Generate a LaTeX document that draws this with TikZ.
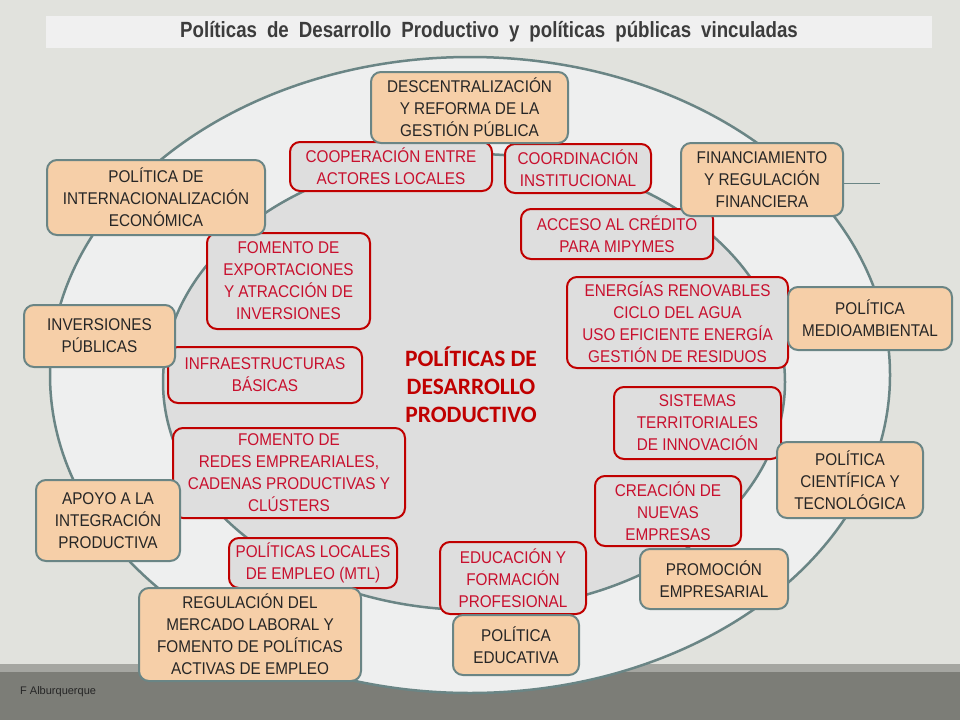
\documentclass[tikz,border=0pt]{standalone}
\usepackage{fontspec}
\setmainfont{Liberation Sans}
\newfontfamily\boxfont{Liberation Sans}[FakeStretch=0.9]
\newfontfamily\titlefont{Liberation Sans}[FakeStretch=0.85]
\newfontfamily\calfont{Carlito}
\definecolor{bgc}{HTML}{E1E2DD}
\definecolor{titlebg}{HTML}{F0F0F0}
\definecolor{stripe}{HTML}{A5A6A1}
\definecolor{footc}{HTML}{7C7D77}
\definecolor{outerfill}{HTML}{EEEFEF}
\definecolor{innerfill}{HTML}{DEDEDE}
\definecolor{ringc}{HTML}{6A8585}
\definecolor{orangefill}{HTML}{F6CFA8}
\definecolor{redline}{HTML}{C00000}
\definecolor{redtext}{HTML}{C8102E}
\definecolor{darktext}{HTML}{262626}
\tikzset{
  orangebox/.style={draw=ringc, line width=2pt, fill=orangefill, rounded corners=10pt,
    align=center, inner sep=0pt, text=darktext,
    font=\boxfont\fontsize{17}{22}\selectfont},
  redbox/.style={draw=redline, line width=2pt, fill=innerfill, rounded corners=10pt,
    align=center, inner sep=0pt, text=redtext,
    font=\boxfont\fontsize{17}{22}\selectfont},
  ring/.style={draw=ringc, line width=2.5pt},
  conn/.style={draw=ringc, line width=1pt}
}
\begin{document}
\begin{tikzpicture}[x=1pt,y=-1pt]
\useasboundingbox (0,0) rectangle (960,720);
\fill[bgc] (0,0) rectangle (960,720);
% footer
\fill[stripe] (0,664) rectangle (960,672);
\fill[footc] (0,672) rectangle (960,720);
% title bar
\fill[titlebg] (46,16) rectangle (932,48);
\node[font=\titlefont\bfseries\fontsize{22}{22}\selectfont, text=darktext!90] (title) at (489,32) {\spaceskip=10pt plus 2pt\relax Políticas de Desarrollo Productivo y políticas públicas vinculadas};
% ellipses
\draw[ring, fill=outerfill] (470,375) ellipse [x radius=420, y radius=318];
\draw[ring, fill=innerfill] (474,382) ellipse [x radius=311, y radius=228];
% center text
\node[font=\calfont\bfseries\fontsize{23.5}{28}\selectfont, text=redline, align=center] (center) at (471,385) {POLÍTICAS DE\\DESARROLLO\\PRODUCTIVO};
% red boxes
\node[redbox, minimum width=202, minimum height=49] (coop) at (391,166.5) {COOPERACIÓN ENTRE\\ACTORES LOCALES};
\node[redbox, minimum width=146, minimum height=49] (coord) at (578,168.5) {COORDINACIÓN\\INSTITUCIONAL};
\node[redbox, minimum width=192, minimum height=50] (acceso) at (617,234) {ACCESO AL CRÉDITO\\PARA MIPYMES};
\node[redbox, minimum width=163, minimum height=96] (export) at (288.5,281) {FOMENTO DE\\EXPORTACIONES\\Y ATRACCIÓN DE\\INVERSIONES};
\node[redbox, minimum width=221, minimum height=91] (energia) at (677.5,322.5) {ENERGÍAS RENOVABLES\\CICLO DEL AGUA\\USO EFICIENTE ENERGÍA\\GESTIÓN DE RESIDUOS};
\node[redbox, minimum width=194, minimum height=56] (infra) at (265,375) {INFRAESTRUCTURAS\\BÁSICAS};
\node[redbox, minimum width=167, minimum height=72] (sistemas) at (697.5,423) {SISTEMAS\\TERRITORIALES\\DE INNOVACIÓN};
\node[redbox, minimum width=232, minimum height=90] (redes) at (289,473) {FOMENTO DE\\REDES EMPREARIALES,\\CADENAS PRODUCTIVAS Y\\CLÚSTERS};
\node[redbox, minimum width=146, minimum height=70] (creacion) at (668,511) {CREACIÓN DE\\NUEVAS\\EMPRESAS};
\node[redbox, minimum width=168, minimum height=50] (mtl) at (313,563) {POLÍTICAS LOCALES\\DE EMPLEO (MTL)};
\node[redbox, minimum width=146, minimum height=72] (edu) at (513,578) {EDUCACIÓN Y\\FORMACIÓN\\PROFESIONAL};
% orange boxes
\node[orangebox, minimum width=197, minimum height=71] (descen) at (469.5,107.5) {DESCENTRALIZACIÓN\\Y REFORMA DE LA\\GESTIÓN PÚBLICA};
\node[orangebox, minimum width=218, minimum height=75] (inter) at (156,197.5) {POLÍTICA DE\\INTERNACIONALIZACIÓN\\ECONÓMICA};
\node[orangebox, minimum width=162, minimum height=73] (fin) at (762,179.5) {FINANCIAMIENTO\\Y REGULACIÓN\\FINANCIERA};
\node[orangebox, minimum width=151, minimum height=62] (invers) at (99.5,336) {INVERSIONES\\PÚBLICAS};
\node[orangebox, minimum width=164, minimum height=63] (medio) at (870,318.5) {POLÍTICA\\MEDIOAMBIENTAL};
\node[orangebox, minimum width=146, minimum height=76] (cient) at (850,480) {POLÍTICA\\CIENTÍFICA Y\\TECNOLÓGICA};
\node[orangebox, minimum width=144, minimum height=81] (apoyo) at (108,520.5) {APOYO A LA\\INTEGRACIÓN\\PRODUCTIVA};
\node[orangebox, minimum width=148, minimum height=60] (promo) at (714,579) {PROMOCIÓN\\EMPRESARIAL};
\node[orangebox, minimum width=222, minimum height=93] (regul) at (250,634.5) {REGULACIÓN DEL\\MERCADO LABORAL Y\\FOMENTO DE POLÍTICAS\\ACTIVAS DE EMPLEO};
\node[orangebox, minimum width=126, minimum height=60] (poledu) at (516,645) {POLÍTICA\\EDUCATIVA};
% stray connector
\coordinate (finend) at (880,183);
\draw[conn] (fin.east |- finend) -- (finend);
% footer text
\node[anchor=west, font=\fontsize{11}{12}\selectfont, text=black!85, inner sep=0pt] (author) at (20,692) {F Alburquerque};
\end{tikzpicture}
\end{document}
